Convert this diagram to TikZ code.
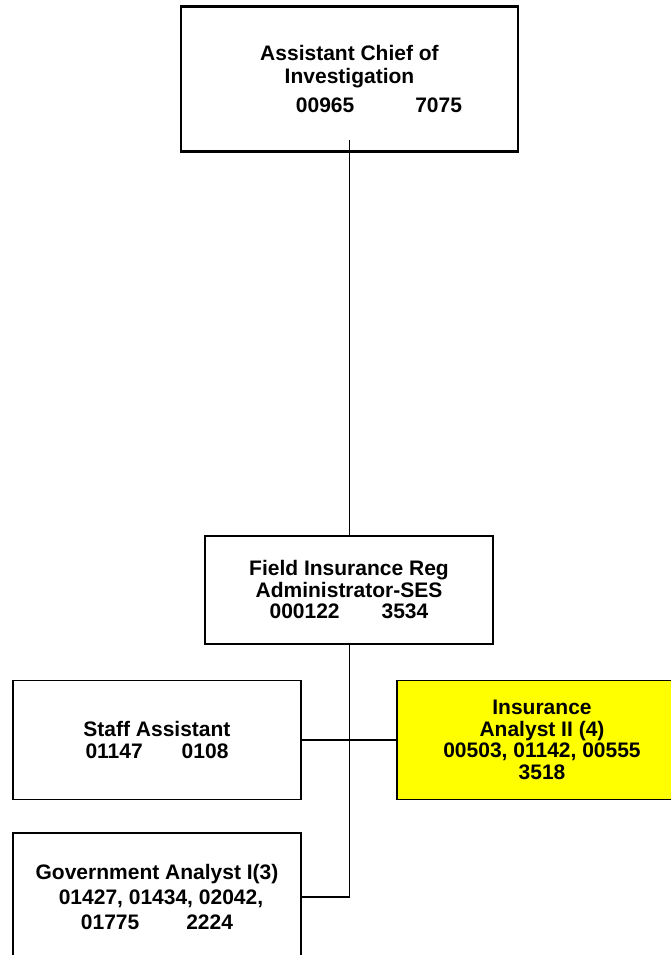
\documentclass[tikz,border=0pt]{standalone}
\usepackage{fontspec}
\setmainfont{Liberation Sans}
\definecolor{vacantfill}{RGB}{255,255,0}
\begin{document}
\begin{tikzpicture}[x=1pt,y=-1pt,
  orgbox/.style={draw=black, line width=1.7pt, inner sep=0pt, align=center,
    font=\fontsize{21}{21.5}\selectfont\bfseries},
  headbox/.style={orgbox, line width=2.7pt},
  vacant/.style={orgbox, fill=vacantfill},
  link/.style={draw=black, line width=1.5pt}]
\useasboundingbox (0,0) rectangle (671,955);
\clip (0,0) rectangle (671,955);
\fill[white] (0,0) rectangle (671,955);

% head of the unit
\node[headbox, minimum width=337pt, minimum height=145pt] (acoi) at (349.5,79)
  {Assistant Chief of\\[1pt] Investigation\\[8pt]
   \hspace*{59pt}00965\hspace{61pt}7075};

% field administrator
\node[orgbox, minimum width=288pt, minimum height=107.5pt] (firs) at (349,590)
  {Field Insurance Reg\\ Administrator-SES\\ 000122\hspace{42pt}3534};

% positions reporting to the administrator
\node[orgbox, minimum width=288pt, minimum height=119pt] (staff) at (157,740)
  {Staff Assistant\\[0.5pt] 01147\hspace{39pt}0108};
\node[vacant, minimum width=290pt, minimum height=119pt] (analyst) at (542,740)
  {Insurance\\ Analyst II (4)\\ 00503, 01142, 00555\\ 3518};
\node[orgbox, minimum width=288pt, minimum height=128pt,
  font=\fontsize{21}{25}\selectfont\bfseries] (gov) at (157,897)
  {Government Analyst I(3)\\ \hspace*{8pt}01427, 01434, 02042,\\
   01775\hspace{47pt}2224};

% reporting lines
\coordinate (stub) at ([yshift=13pt]acoi.south);
\draw[link] (stub) -- (stub |- firs.north);
\draw[link] (stub |- firs.south) |- (gov.east);
\draw[link] (staff.east) -- (analyst.west);
\end{tikzpicture}
\end{document}
